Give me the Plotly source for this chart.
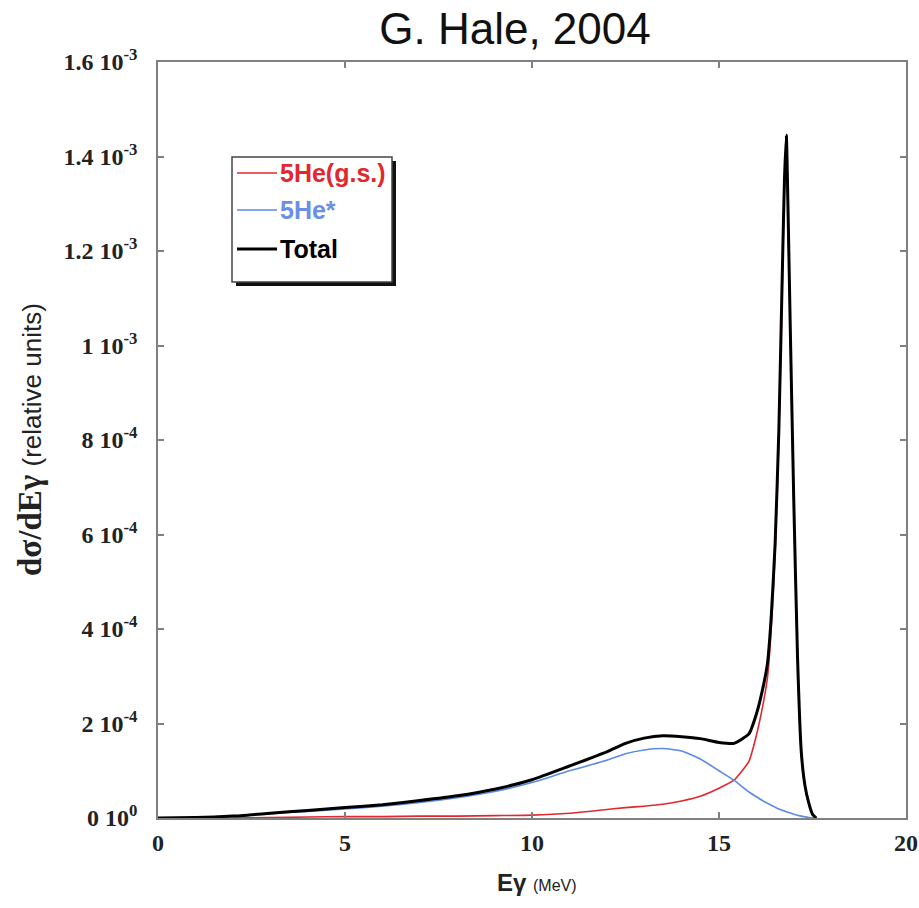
import plotly.graph_objects as go

# ---- data (values in units of 1e-4) ----
energy = [0, 1, 2, 3, 4, 5, 6, 7, 8, 9, 10, 11, 12, 12.5, 13, 13.5, 14, 14.5, 15, 15.4,
          15.8, 16.0, 16.2, 16.3, 16.4, 16.5, 16.6, 16.7, 16.75, 16.8, 16.85, 16.9, 17.0,
          17.1, 17.2, 17.3, 17.4, 17.5, 17.6]
he5_gs = [0, 0, 0, 0.01, 0.02, 0.03, 0.03, 0.04, 0.04, 0.05, 0.06, 0.1, 0.18, 0.22, 0.25,
          0.29, 0.36, 0.46, 0.63, 0.8, 1.2, 1.75, 2.5, 3.0, 4.05, 5.6, 8.0, 11.6, 13.4,
          14.3, 12.6, 10.5, 6.6, 3.35, 1.35, 0.65, 0.3, 0.08, 0]
he5_exc = [0, 0.01, 0.04, 0.09, 0.14, 0.19, 0.25, 0.33, 0.43, 0.56, 0.75, 1.0, 1.22, 1.36,
           1.44, 1.47, 1.42, 1.25, 1.0, 0.8, 0.55, 0.45, 0.35, 0.31, 0.27, 0.23, 0.19, 0.16,
           0.15, 0.13, 0.12, 0.11, 0.08, 0.06, 0.04, 0.025, 0.01, 0.0, 0]
total = [0, 0.01, 0.04, 0.10, 0.16, 0.22, 0.28, 0.37, 0.47, 0.61, 0.81, 1.1, 1.40, 1.58,
         1.69, 1.74, 1.72, 1.68, 1.60, 1.58, 1.78, 2.2, 2.85, 3.3, 4.3, 5.8, 8.2, 11.8,
         13.5, 14.45, 12.7, 10.6, 6.7, 3.4, 1.4, 0.68, 0.32, 0.08, 0]
scale = 1e-4

y_tickvals = [0, 2e-4, 4e-4, 6e-4, 8e-4, 1e-3, 1.2e-3, 1.4e-3, 1.6e-3]
y_ticktext = ["0 10<sup>0</sup>", "2 10<sup>-4</sup>", "4 10<sup>-4</sup>", "6 10<sup>-4</sup>",
              "8 10<sup>-4</sup>", "1 10<sup>-3</sup>", "1.2 10<sup>-3</sup>",
              "1.4 10<sup>-3</sup>", "1.6 10<sup>-3</sup>"]
x_tickvals = [0, 5, 10, 15, 20]

legend_names = ["5He(g.s.)", "5He*", "Total"]
legend_colors = ["#e0282e", "#5b8ae6", "#000000"]

# ---- figure ----
W, H = 919, 908
L, R, T, B = 158, 13, 62, 90
pw, ph = W - L - R, H - T - B

def px(x):
    return (x - L) / pw

def py(y):
    return (H - B - y) / ph

fig = go.Figure()
fig.add_trace(go.Scatter(x=energy, y=[v * scale for v in he5_gs], mode="lines",
                         name=legend_names[0], line=dict(color=legend_colors[0], width=1.6)))
fig.add_trace(go.Scatter(x=energy, y=[v * scale for v in he5_exc], mode="lines",
                         name=legend_names[1], line=dict(color=legend_colors[1], width=1.6)))
fig.add_trace(go.Scatter(x=energy, y=[v * scale for v in total], mode="lines",
                         name=legend_names[2], line=dict(color=legend_colors[2], width=3)))
for tr in fig.data:
    tr.line.shape = "spline"
    tr.line.smoothing = 0.5

axis_common = dict(showline=True, linecolor="#808080", linewidth=1.5, mirror="ticks",
                   ticks="inside", ticklen=6, tickcolor="#808080", tickwidth=1.5,
                   showgrid=False, zeroline=False, automargin=False,
                   tickfont=dict(family="Liberation Serif, Times New Roman, serif",
                                 size=24, color="#222222", weight="bold"))

fig.update_layout(
    width=W, height=H,
    margin=dict(l=L, r=R, t=T, b=B),
    paper_bgcolor="white", plot_bgcolor="white",
    showlegend=False,
    title=dict(text="G. Hale, 2004", x=(515) / W, xanchor="center", y=1 - 29 / H, yanchor="middle",
               automargin=False,
               font=dict(family="Liberation Sans, Arial, sans-serif", size=44, color="#111111")),
    xaxis=dict(range=[0, 20], tickvals=x_tickvals, ticklabelstandoff=2, **axis_common),
    yaxis=dict(range=[0, 1.6e-3], tickvals=y_tickvals, ticktext=y_ticktext,
               ticklabelstandoff=14, **axis_common),
)

# axis titles
fig.add_annotation(xref="paper", yref="paper", x=px(30), y=py(440), textangle=-90,
                   showarrow=False, xanchor="center", yanchor="middle",
                   text="<b>dσ/dEγ</b> <span style='font-family:Liberation Sans, Arial;font-size:26px'>(relative units)</span>",
                   font=dict(family="Liberation Serif, Times New Roman, serif", size=33, color="#222222"))
fig.add_annotation(xref="paper", yref="paper", x=px(537), y=py(882),
                   showarrow=False, xanchor="center", yanchor="middle",
                   text="<b>Eγ</b> <span style='font-family:Liberation Sans Narrow, Arial;font-size:16px'>(MeV)</span>",
                   font=dict(family="Liberation Sans, Arial, sans-serif", size=24, color="#222222"))

# custom legend box with drop shadow
bx0, by0, bx1, by1 = 232, 157, 392, 282
fig.add_shape(type="rect", xref="paper", yref="paper",
              x0=px(bx0 + 4), y0=py(by1 + 4), x1=px(bx1 + 4), y1=py(by0 + 4),
              fillcolor="#111111", line=dict(width=0))
fig.add_shape(type="rect", xref="paper", yref="paper",
              x0=px(bx0), y0=py(by1), x1=px(bx1), y1=py(by0),
              fillcolor="white", line=dict(color="#444444", width=1.5))
rows = [173, 210, 249]
for name, col, yy in zip(legend_names, legend_colors, rows):
    fig.add_shape(type="line", xref="paper", yref="paper",
                  x0=px(237), x1=px(277), y0=py(yy), y1=py(yy),
                  line=dict(color=col, width=3 if col == "#000000" else 1.6))
    fig.add_annotation(xref="paper", yref="paper", x=px(278), y=py(yy),
                       xanchor="left", yanchor="middle", showarrow=False,
                       text="<b>" + name + "</b>",
                       font=dict(family="Liberation Sans, Arial, sans-serif", size=25,
                                 color=col if col != "#5b8ae6" else "#6b8fe6"))

fig.write_html("out.html")
